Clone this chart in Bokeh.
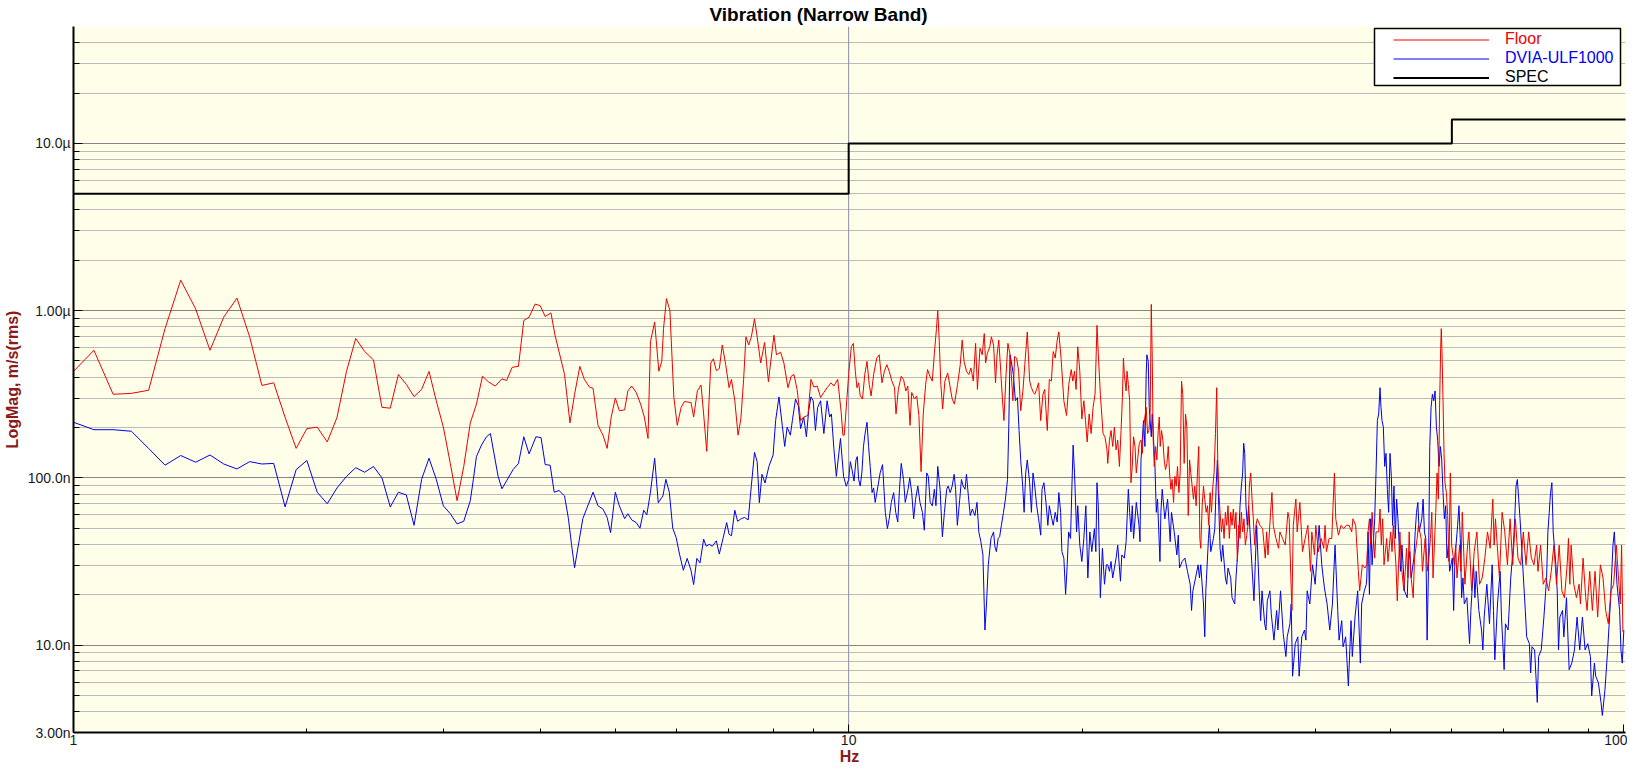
from bokeh.plotting import figure
from bokeh.models import Range1d, FixedTicker, Span, Legend, LegendItem, BoxAnnotation
from bokeh.embed import file_html
from bokeh.resources import INLINE

# ---------------- data (frequency in Hz, magnitude in nm/s rms) ----------------
floor_f_a = [1.0, 1.0625, 1.125, 1.1875, 1.25, 1.3125, 1.375, 1.4375, 1.5, 1.5625,
             1.625, 1.6875, 1.75, 1.8125, 1.875, 1.9375, 2.0, 2.0625, 2.125, 2.1875,
             2.25, 2.3125, 2.375, 2.4375, 2.5, 2.5625, 2.625, 2.6875, 2.75, 2.8125,
             2.875, 2.9375, 3.0, 3.0625, 3.125, 3.1875]
floor_n_a = [433, 579, 316, 320, 334, 780, 1521, 1023, 579, 914,
             1188, 697, 357, 370, 230, 150, 197, 201, 164, 230,
             433, 681, 569, 508, 264, 261, 415, 362, 306, 338,
             433, 289, 201, 122, 73, 117]

floor_f_b = [3.25, 3.31, 3.37, 3.43, 3.50, 3.57, 3.62, 3.68, 3.75, 3.81,
             3.87, 3.94, 4.00, 4.06, 4.13, 4.18, 4.25, 4.30, 4.37, 4.43,
             4.50, 4.56, 4.63, 4.68, 4.75, 4.82, 4.88, 4.94, 5.00, 5.06,
             5.14, 5.19, 5.25, 5.32, 5.39, 5.45, 5.51, 5.55, 5.62, 5.69,
             5.74, 5.77, 5.82, 5.88, 5.95, 6.01, 6.08, 6.14, 6.26, 6.31,
             6.38, 6.45, 6.50, 6.56, 6.64, 6.69, 6.75, 6.81, 6.87, 6.94,
             7.01, 7.06, 7.13, 7.20, 7.26, 7.32, 7.37, 7.43, 7.49, 7.56,
             7.62, 7.70, 7.79, 7.88, 7.93, 8.01, 8.07, 8.17, 8.25, 8.35,
             8.43, 8.50, 8.58, 8.67, 8.75, 8.86, 8.94, 9.02, 9.11, 9.20,
             9.29, 9.38, 9.49, 9.57, 9.68, 9.78, 9.83, 9.87, 9.95]
floor_n_b = [213, 276, 405, 375, 354, 391, 382, 458, 464, 873,
             914, 1094, 1070, 922, 969, 713, 520, 415, 213, 316,
             464, 388, 349, 343, 206, 180, 150, 231, 300, 252,
             255, 331, 354, 324, 276, 231, 172, 651, 854, 434,
             497, 780, 1180, 1000, 302, 206, 264, 286, 282, 231,
             331, 359, 241, 144, 486, 515, 438, 450, 623, 475,
             346, 388, 289, 180, 225, 388, 697, 623, 697, 893,
             697, 486, 645, 375, 486, 713, 544, 564, 486, 346,
             405, 415, 338, 220, 231, 236, 388, 349, 354, 302,
             324, 346, 370, 354, 388, 247, 180, 180, 302]

floor_f_c = [10.00, 10.08, 10.14, 10.20, 10.25, 10.30, 10.35, 10.42, 10.49, 10.56,
             10.63, 10.69, 10.77, 10.87, 10.95, 11.04, 11.12, 11.20, 11.28, 11.37,
             11.46, 11.51, 11.59, 11.69, 11.77, 11.85, 11.92, 12.00, 12.06, 12.16,
             12.24, 12.32, 12.40, 12.48, 12.57, 12.64, 12.73, 12.82, 12.90, 12.98,
             13.03, 13.08, 13.15, 13.22, 13.31, 13.42, 13.51, 13.60, 13.69, 13.82,
             13.93, 14.01, 14.09, 14.19, 14.29, 14.38, 14.48, 14.58, 14.66, 14.77,
             14.87, 14.96, 15.02, 15.10, 15.21, 15.28, 15.38, 15.47, 15.54, 15.62,
             15.71, 15.79, 15.86, 15.96, 16.05, 16.15, 16.21, 16.29, 16.37, 16.47,
             16.57, 16.67, 16.78, 16.90, 17.00, 17.12, 17.21, 17.31, 17.38, 17.48,
             17.58, 17.69, 17.81, 17.90, 18.04, 18.15, 18.26, 18.36, 18.47, 18.58,
             18.67, 18.80, 18.95, 19.10, 19.23, 19.37, 19.46, 19.56, 19.65, 19.75,
             19.87, 19.99, 20.11, 20.21, 20.31, 20.43, 20.55, 20.67, 20.79, 20.91,
             20.99, 21.12, 21.29, 21.41, 21.54]
floor_n_c = [415, 608, 637, 434, 346, 370, 309, 296, 415, 497,
             362, 309, 415, 520, 544, 370, 434, 475, 434, 379,
             346, 241, 338, 405, 388, 331, 354, 206, 324, 296,
             309, 236, 109, 241, 362, 444, 405, 379, 556, 780,
             1000, 697, 362, 258, 379, 424, 354, 296, 276, 362,
             475, 666, 497, 434, 415, 454, 379, 637, 338, 595,
             544, 729, 486, 556, 608, 697, 622, 370, 544, 666,
             434, 296, 220, 415, 637, 544, 415, 289, 532, 520,
             434, 252, 331, 520, 746, 379, 346, 324, 316, 338,
             370, 220, 316, 338, 192, 388, 379, 569, 520, 666,
             746, 508, 289, 236, 362, 444, 379, 434, 338, 608,
             434, 225, 289, 220, 164, 241, 184, 264, 316, 816,
             556, 316, 184, 176, 147]

floor_f_d = [21.59, 21.70, 21.80, 21.91, 22.02, 22.13, 22.24, 22.35, 22.46, 22.55,
             22.62, 22.68, 22.80, 22.86, 22.95, 23.04, 23.13, 23.22, 23.31, 23.41,
             23.50, 23.59, 23.71, 23.83, 23.92, 24.01, 24.11, 24.20, 24.30, 24.40,
             24.49, 24.57, 24.64, 24.71, 24.79, 24.89, 24.98, 25.08, 25.16, 25.23,
             25.33, 25.43, 25.53, 25.63, 25.74, 25.84, 25.94, 26.04, 26.14, 26.25,
             26.35, 26.46, 26.56, 26.67, 26.77, 26.88, 26.98, 27.09, 27.20, 27.31,
             27.42, 27.53, 27.63, 27.74, 27.85, 27.96, 28.07, 28.18, 28.29, 28.38,
             28.46, 28.58, 28.69, 28.80, 28.92, 29.03, 29.15, 29.26, 29.38, 29.50,
             29.61, 29.73, 29.84, 29.93, 30.02, 30.14, 30.26, 30.38, 30.50, 30.62,
             30.74, 30.86, 30.98, 31.11, 31.23, 31.35, 31.48, 31.60, 31.73, 31.85,
             31.98, 32.11, 32.23, 32.36, 32.49, 32.62, 32.75, 32.88, 33.01, 33.14,
             33.27, 33.40, 33.53, 33.66, 33.93, 34.20, 34.47, 34.61, 34.75, 35.02,
             35.16, 35.30, 35.58, 35.86, 36.00, 36.29, 36.58, 36.87, 37.01, 37.16,
             37.31, 37.46, 37.75, 37.90, 38.20, 38.50, 38.81, 39.12, 39.43, 39.58,
             39.90, 40.05, 40.37, 40.69, 41.01, 41.17, 41.34, 41.67, 42.00, 42.16,
             42.33, 42.50, 42.84, 43.17, 43.51, 43.86, 44.21, 44.56, 44.73, 45.09,
             45.45, 45.63, 45.99, 46.36]
floor_n_d = [122, 168, 192, 154, 201, 147, 168, 117, 192, 302,
             520, 415, 331, 434, 362, 289, 93.5, 117, 176, 154,
             107, 128, 161, 168, 140, 201, 231, 264, 184, 192,
             252, 1090, 520, 168, 117, 154, 128, 192, 231, 154,
             192, 168, 128, 112, 122, 154, 107, 85.4, 97.8, 71.3,
             102, 89.3, 117, 81.6, 107, 379, 316, 122, 241, 201,
             59.5, 128, 107, 89.3, 74.6, 89.3, 68.1, 107, 154, 43.4,
             37.9, 68.1, 89.3, 74.6, 62.2, 68.1, 52, 81.6, 62.2, 89.3,
             107, 184, 346, 128, 85.4, 62.2, 47.5, 56.9, 43.4, 62.2,
             52, 68.1, 43.4, 62.2, 52, 65.1, 49.7, 62.2, 31.6, 52,
             43.4, 62.2, 47.5, 56.9, 39.6, 45.4, 52, 89.3, 107, 74.6,
             56.9, 39.6, 52, 56.9, 52, 49.7, 33.1, 47.5, 34.6, 62.2,
             81.6, 52, 43.4, 37.9, 47.5, 43.4, 39.6, 62.2, 56.9, 28.9,
             16.1, 52, 74.6, 47.5, 71.3, 36.2, 43.4, 52, 27.6, 47.5,
             34.6, 52, 36.2, 43.4, 37.9, 52, 36.2, 43.4, 43.4, 68.1,
             107, 56.9, 45.4, 52, 49.7, 52, 52, 47.5, 56.9, 52,
             27.6, 21.1, 30.2, 28.9]

floor_f_e = [46.60, 46.78, 46.97, 47.15, 47.34, 47.71, 47.90, 48.28, 48.47, 48.66,
             48.85, 49.05, 49.44, 49.63, 50.03, 50.23, 50.42, 50.82, 51.02, 51.22,
             51.42, 51.63, 52.03, 52.24, 52.44, 52.65, 52.86, 53.07, 53.49, 53.70,
             54.12, 54.34, 54.77, 54.98, 55.42, 55.86, 56.30, 56.53, 56.74, 57.20,
             57.42, 57.65, 57.87, 58.04, 58.15, 58.28, 58.45, 58.62, 58.79, 59.03,
             59.26, 59.49, 59.73, 59.96, 60.44, 60.68, 60.92, 61.40, 61.64, 61.89,
             62.37, 62.87, 63.12, 63.62, 64.12, 64.63, 65.14, 65.66, 66.18, 66.70,
             67.23, 67.76, 68.03, 68.30, 69.11, 69.66, 70.21, 70.77, 71.33, 71.89,
             72.46, 73.03, 73.61, 74.19, 74.78, 75.38, 75.97, 76.57, 77.18, 77.49,
             78.10, 78.72, 79.34, 79.97, 80.61, 81.24, 81.88, 82.53, 83.19, 83.84,
             84.51, 84.84, 85.18, 85.51, 86.19, 86.87, 87.56, 87.91, 88.60, 89.30,
             89.66, 90.37, 91.08, 91.81, 92.53, 93.27, 94.01, 94.75, 95.50, 96.26,
             97.02, 97.79, 98.56, 98.95, 99.34, 99.73]
floor_n_e = [30.2, 47.5, 56.9, 39.6, 62.2, 33.1, 47.5, 47.5, 65.1, 39.6,
             56.9, 30.2, 43.4, 31.6, 47.5, 36.2, 52, 30.2, 18.4, 30.2,
             47.5, 30.2, 21.1, 27.6, 37.9, 25.2, 47.5, 27.6, 19.2, 33.1,
             43.4, 52, 43.4, 27.6, 43.4, 27.6, 43.4, 62.2, 25.2, 62.2,
             107, 74.6, 289, 595, 780, 544, 289, 140, 93.5, 81.6,
             59.5, 31.6, 107, 39.6, 30.2, 39.6, 25.2, 39.6, 27.6, 62.2,
             23.1, 39.6, 47.5, 21.1, 36.2, 47.5, 23.1, 25.2, 33.1, 47.5,
             37.9, 74.6, 39.6, 56.9, 25.2, 62.2, 47.5, 30.2, 56.9, 30.2,
             56.9, 33.1, 30.2, 47.5, 30.2, 47.5, 33.1, 30.2, 39.6, 27.6,
             39.6, 23.1, 25.2, 21.1, 27.6, 39.6, 23.1, 39.6, 21.1, 19.2,
             30.2, 43.4, 23.1, 39.6, 23.1, 19.2, 23.1, 17.6, 33.1, 19.2,
             16.1, 27.6, 16.1, 27.6, 14.7, 30.2, 25.2, 16.1, 13.4, 21.1,
             23.1, 39.6, 23.1, 17.6, 39.6, 12]

dvia_f_a = floor_f_a
dvia_n_a = [215, 194, 194, 190, 150, 119, 136, 124, 137, 121,
            113, 125, 121, 122, 67, 112, 127, 82, 70, 87,
            102, 115, 108, 117, 100, 67, 82, 79, 52, 98,
            131, 98, 68, 61, 53, 55]

dvia_f_b = [3.25, 3.28, 3.31, 3.36, 3.41, 3.45, 3.49, 3.53, 3.57, 3.62,
            3.69, 3.75, 3.81, 3.87, 3.95, 4.01, 4.06, 4.12, 4.17, 4.23,
            4.30, 4.35, 4.39, 4.43, 4.49, 4.54, 4.59, 4.68, 4.75, 4.82,
            4.88, 4.93, 5.00, 5.06, 5.14, 5.19, 5.25, 5.32, 5.38, 5.44,
            5.49, 5.55, 5.62, 5.68, 5.76, 5.81, 5.87, 5.93, 5.99, 6.05,
            6.12, 6.19, 6.26, 6.31, 6.37, 6.43, 6.50, 6.55, 6.61, 6.67,
            6.75, 6.81, 6.89, 6.96, 7.01, 7.06, 7.13, 7.19, 7.27, 7.34,
            7.42, 7.49, 7.56, 7.62, 7.67, 7.73, 7.80, 7.89, 7.99, 8.05,
            8.13, 8.21, 8.27, 8.33, 8.41, 8.46, 8.54, 8.61, 8.67, 8.75,
            8.82, 8.88, 8.94, 9.00, 9.06, 9.12, 9.20, 9.29, 9.38, 9.45,
            9.50, 9.57, 9.64, 9.76, 9.85, 9.93]
dvia_n_b = [73, 98, 134, 157, 176, 184, 137, 102, 86, 96,
            112, 122, 176, 139, 176, 174, 120, 119, 82, 84,
            78, 57, 40, 29, 42, 57, 65, 82, 68, 65,
            58, 47, 82, 68, 57, 61, 56, 54, 50, 64,
            60, 82, 131, 71, 78, 98, 82, 50, 44, 35,
            28, 33, 28, 23, 33, 31, 43, 39, 40, 39,
            42, 35, 44, 54, 46, 45, 64, 55, 57, 58,
            56, 90, 142, 125, 71, 105, 93, 117, 137, 220,
            305, 206, 154, 201, 180, 220, 296, 270, 197, 231,
            176, 252, 305, 289, 192, 264, 289, 184, 289, 231,
            241, 150, 102, 172, 102, 89]

dvia_f_c = [10.00, 10.05, 10.10, 10.16, 10.22, 10.26, 10.30, 10.35, 10.40, 10.45,
            10.50, 10.56, 10.61, 10.66, 10.72, 10.77, 10.82, 10.91, 10.98, 11.06,
            11.10, 11.15, 11.22, 11.28, 11.35, 11.43, 11.50, 11.57, 11.63, 11.69,
            11.77, 11.83, 11.93, 11.99, 12.06, 12.13, 12.20, 12.28, 12.36, 12.45,
            12.52, 12.61, 12.67, 12.74, 12.82, 12.90, 12.96, 13.03, 13.12, 13.21,
            13.29, 13.38, 13.44, 13.52, 13.60, 13.68, 13.74, 13.81, 13.91, 13.98,
            14.05, 14.13, 14.19, 14.27, 14.35, 14.44, 14.55, 14.64, 14.72, 14.81,
            14.90, 14.99, 15.06, 15.14, 15.26, 15.38, 15.44, 15.51, 15.59, 15.66,
            15.74, 15.84, 15.93, 16.03, 16.09, 16.15, 16.21, 16.31, 16.41, 16.51,
            16.59, 16.67, 16.77, 16.84, 16.92, 17.00, 17.12, 17.21, 17.29, 17.38,
            17.48, 17.58, 17.69, 17.76, 17.86, 17.97, 18.07, 18.15, 18.25, 18.36,
            18.47, 18.58, 18.67, 18.77, 18.84, 18.95, 19.05, 19.14, 19.22, 19.33,
            19.41, 19.48, 19.56, 19.68, 19.75, 19.87, 19.99, 20.11, 20.23, 20.35,
            20.47, 20.59, 20.75, 20.84, 20.91, 20.99, 21.12, 21.25, 21.38, 21.50]
dvia_n_c = [97.8, 125, 112, 95.6, 128, 134, 97.8, 89.3, 107, 154,
            184, 215, 154, 117, 81.6, 87, 71.3, 89.3, 107, 120,
            89.3, 62.2, 49.7, 56.9, 71.3, 81.6, 62.2, 54.4, 85.4, 122,
            97.8, 71.3, 85.4, 100, 81.6, 56.9, 74.6, 89.3, 71.3, 62.2,
            48.6, 107, 102, 71.3, 68.1, 85.4, 68.1, 117, 85.4, 44.4,
            62.2, 85.4, 89.3, 81.6, 89.3, 105, 85.4, 52, 74.6, 97.8,
            89.3, 85.4, 105, 78, 59.5, 65.1, 59.5, 71.3, 47.5, 41.5,
            34.6, 12.3, 17.6, 30.2, 43.4, 47.5, 38.7, 36.2, 43.4, 44.4,
            52, 62.2, 74.6, 97.8, 201, 544, 497, 415, 289, 302,
            192, 128, 89.3, 62.2, 107, 128, 93.5, 62.2, 107, 89.3,
            68.1, 56.9, 45.4, 85.4, 93.5, 71.3, 52, 68.1, 59.5, 52,
            62.2, 54.4, 81.6, 62.2, 36.2, 33.1, 20.1, 30.2, 47.5, 43.4,
            89.3, 157, 107, 47.5, 68.1, 39.6, 31.6, 43.4, 68.1, 25.2,
            47.5, 36.2, 49.7, 36.2, 93.5, 68.1, 19.2, 37.9, 23.1, 30.2]

dvia_f_d = [21.59, 21.70, 21.80, 21.91, 22.13, 22.24, 22.42, 22.51, 22.68, 22.80,
            22.95, 23.04, 23.13, 23.22, 23.31, 23.50, 23.69, 23.76, 23.83, 24.01,
            24.11, 24.20, 24.25, 24.35, 24.42, 24.57, 24.64, 24.84, 24.94, 25.03,
            25.21, 25.28, 25.38, 25.58, 25.79, 25.99, 26.09, 26.30, 26.51, 26.62,
            26.72, 26.93, 27.15, 27.36, 27.58, 27.69, 27.80, 28.02, 28.24, 28.35,
            28.46, 28.69, 28.80, 28.89, 29.12, 29.20, 29.32, 29.55, 29.67, 29.79,
            29.90, 30.02, 30.14, 30.26, 30.38, 30.62, 30.74, 30.86, 31.11, 31.23,
            31.48, 31.60, 31.85, 31.98, 32.11, 32.23, 32.33, 32.43, 32.55, 32.68,
            32.81, 33.07, 33.33, 33.47, 33.60, 33.86, 34.00, 34.14, 34.41, 34.54,
            34.68, 34.95, 35.09, 35.37, 35.65, 35.79, 36.07, 36.36, 36.65, 36.79,
            37.09, 37.23, 37.38, 37.68, 37.97, 38.12, 38.42, 38.73, 38.89, 39.04,
            39.35, 39.66, 39.98, 40.29, 40.45, 40.77, 41.09, 41.42, 41.75, 42.08,
            42.41, 42.75, 42.92, 43.26, 43.43, 43.77, 44.12, 44.47, 44.64, 45.00,
            45.36, 45.72, 45.90, 46.26, 46.54]
dvia_n_d = [30.2, 27.6, 31.6, 25.2, 33.1, 39.6, 24.1, 34.6, 33.1, 41.5,
            85.4, 62.2, 47.5, 68.1, 43.4, 71.3, 52, 41.5, 128, 220,
            154, 415, 544, 497, 264, 176, 241, 117, 62.2, 74.6,
            31.6, 62.2, 85.4, 56.9, 74.6, 41.5, 62.2, 47.5, 34.6, 45.4,
            28.9, 31.6, 33.1, 27.6, 23.1, 16.1, 21.1, 25.2, 30.2, 25.2,
            30.2, 17.6, 11.2, 21.1, 43.4, 52, 36.2, 43.4, 49.7, 89.3,
            128, 68.1, 37.9, 31.6, 39.6, 25.2, 23.1, 28.9, 25.2, 19.2,
            17.6, 25.2, 43.4, 68.1, 89.3, 107, 161, 140, 68.1, 52,
            68.1, 34.6, 18.4, 31.6, 52, 21.1, 14, 21.1, 13.4, 12.3,
            18.4, 21.1, 15.4, 10.7, 16.1, 12.3, 21.1, 11.7, 8.54, 11.2,
            13.4, 17.6, 6.51, 10.2, 11.2, 6.51, 11.2, 12.3, 10.7, 21.1,
            17.6, 30.2, 23.1, 39.6, 52, 30.2, 22, 17.6, 12.3, 17.6,
            39.6, 16.1, 10.7, 14, 9.77, 11.2, 5.69, 14, 8.54, 14.7,
            21.1, 7.8, 17.6, 21.1, 23.1]

dvia_f_e = [46.60, 46.78, 46.97, 47.15, 47.34, 47.71, 47.90, 48.09, 48.28, 48.47,
            48.61, 48.76, 48.95, 49.15, 49.34, 49.54, 49.73, 49.93, 50.13, 50.32,
            50.52, 50.72, 50.92, 51.12, 51.32, 51.52, 51.73, 52.13, 52.55, 52.75,
            52.96, 53.17, 53.60, 53.81, 54.02, 54.23, 54.45, 54.88, 55.09, 55.31,
            55.53, 55.75, 55.97, 56.19, 56.41, 56.63, 56.86, 57.08, 57.31, 57.53,
            57.76, 57.99, 58.22, 58.45, 58.68, 58.91, 59.14, 59.38, 59.61, 60.08,
            60.32, 60.56, 61.04, 61.28, 61.52, 61.77, 62.01, 62.26, 62.74, 63.24,
            63.49, 64.00, 64.25, 64.50, 65.01, 65.53, 65.79, 66.05, 66.57, 67.10,
            67.63, 67.90, 68.17, 68.71, 69.25, 69.53, 70.08, 70.35, 70.91, 71.47,
            72.04, 72.32, 72.60, 72.89, 73.18, 73.47, 74.05, 74.63, 74.93, 75.53,
            75.82, 76.12, 76.72, 77.33, 77.64, 78.25, 78.87, 79.50, 79.81, 80.13,
            80.44, 80.76, 81.08, 81.72, 82.05, 82.37, 82.70, 83.35, 83.68, 84.34,
            85.01, 85.68, 86.36, 87.04, 87.73, 88.43, 89.13, 89.84, 90.55, 90.90,
            91.63, 91.99, 92.72, 93.45, 93.82, 94.56, 95.31, 96.07, 96.83, 97.22,
            97.99, 98.76, 99.15, 99.54, 100.0]
dvia_n_e = [25.2, 47.5, 20.1, 56.9, 30.2, 56.9, 107, 220, 241, 346,
            264, 220, 201, 117, 140, 85.4, 62.2, 140, 102, 52,
            89.3, 43.4, 74.6, 56.9, 39.6, 27.6, 39.6, 21.1, 19.2, 31.6,
            36.2, 25.2, 33.1, 47.5, 62.2, 71.3, 47.5, 56.9, 74.6, 47.5,
            43.4, 10.7, 27.6, 154, 264, 316, 289, 331, 201, 168,
            117, 154, 128, 81.6, 56.9, 68.1, 33.1, 39.6, 27.6, 33.1,
            16.1, 33.1, 52, 68.1, 43.4, 19.2, 25.2, 17.6, 19.2, 10.2,
            16.1, 30.2, 19.2, 27.6, 16.1, 12.3, 9.35, 14.7, 23.1, 13.4,
            30.2, 16.1, 8.16, 17.6, 27.6, 14.7, 7.13, 13.4, 12.3, 25.2,
            39.6, 56.9, 89.3, 97.8, 74.6, 56.9, 30.2, 16.1, 11.2, 10.2,
            6.81, 9.78, 9.35, 4.54, 8.54, 9.35, 14.7, 25.2, 47.5, 62.2,
            81.6, 93.5, 47.5, 30.2, 21.1, 9.35, 14.7, 16.1, 11.2, 19.2,
            7.13, 7.8, 9.35, 14.7, 9.35, 14.7, 9.35, 10.2, 8.54, 4.97,
            7.8, 6.51, 5.95, 4.54, 3.79, 5.44, 9.35, 17.6, 39.6, 47.5,
            23.1, 16.1, 9.35, 7.8, 12.3]

spec_f = [1, 10, 60, 101]
spec_um = [5.0, 10.0, 13.9, 13.9]

y_tick_labels = {3e-9: "3.00n", 1e-8: "10.0n", 1e-7: "100.0n", 1e-6: "1.00µ", 1e-5: "10.0µ"}
x_tick_labels = {1: "1", 10: "10", 100: "100"}

# ---------------- assemble ----------------
NM = 1e-9
floor_f = floor_f_a + floor_f_b + floor_f_c + floor_f_d + floor_f_e
floor_v = [v * NM for v in floor_n_a + floor_n_b + floor_n_c + floor_n_d + floor_n_e]
dvia_f = dvia_f_a + dvia_f_b + dvia_f_c + dvia_f_d + dvia_f_e
dvia_v = [v * NM for v in dvia_n_a + dvia_n_b + dvia_n_c + dvia_n_d + dvia_n_e]
spec_v = [v * 1e-6 for v in spec_um]

FONT = "Liberation Sans"
DARKRED = "#8B1A1A"
FW, FH = 1552, 706

p = figure(frame_width=FW, frame_height=FH, x_axis_type="log", y_axis_type="log",
           x_range=Range1d(1, 100.5), y_range=Range1d(3e-9, 5e-5),
           output_backend="svg", toolbar_location=None,
           title="Vibration (Narrow Band)")
p.min_border_left = 0
p.min_border_right = 2
p.min_border_top = 0
p.min_border_bottom = 0
p.background_fill_color = "#FFFFE9"
p.border_fill_color = "white"
p.outline_line_color = None

p.title.text_font = FONT
p.title.text_font_size = "19px"
p.title.text_font_style = "bold"
p.title.text_color = "black"
p.title.align = "left"
p.title.offset = 636
p.title.standoff = 3

# y axis
minor_y = []
for e in range(-9, -4):
    for m in range(2, 10):
        val = m * 10.0 ** e
        if 3.5e-9 < val < 5e-5:
            minor_y.append(val)
yt = FixedTicker(ticks=list(y_tick_labels.keys()), minor_ticks=minor_y)
p.yaxis.ticker = yt
p.ygrid.ticker = yt
p.yaxis.major_label_overrides = y_tick_labels
xt = FixedTicker(ticks=list(x_tick_labels.keys()),
                 minor_ticks=[2, 3, 4, 5, 6, 7, 8, 9, 20, 30, 40, 50, 60, 70, 80, 90])
p.xaxis.ticker = xt
p.xaxis.major_label_overrides = x_tick_labels

for ax in (p.xaxis, p.yaxis):
    ax.axis_line_color = "black"
    ax.axis_line_width = 2
    ax.major_tick_line_color = "black"
    ax.minor_tick_line_color = "black"
    ax.major_tick_out = 0
    ax.minor_tick_out = 0
    ax.major_label_text_font = FONT
    ax.major_label_text_font_size = "14px"
    ax.major_label_text_color = "#1A1A1A"
    ax.axis_label_text_font = FONT
    ax.axis_label_text_font_size = "16px"
    ax.axis_label_text_font_style = "bold"
    ax.axis_label_text_color = DARKRED
p.yaxis.major_tick_in = 9
p.yaxis.minor_tick_in = 6
p.xaxis.major_tick_in = 8
p.xaxis.minor_tick_in = 4
p.yaxis.major_label_standoff = 3
p.xaxis.major_label_standoff = 2
p.yaxis.axis_label_standoff = 4
p.xaxis.axis_label_standoff = 0
p.yaxis.axis_label = "LogMag, m/s(rms)"
p.xaxis.axis_label = "Hz"

p.xgrid.visible = False
p.ygrid.grid_line_color = "#858585"
p.ygrid.grid_line_width = 1
p.ygrid.minor_grid_line_color = "#BBBBBB"
p.ygrid.minor_grid_line_width = 1

p.add_layout(Span(location=10, dimension="height", line_color="#8C8CA8",
                  line_width=1, level="underlay"))

r_dvia = p.line(dvia_f, dvia_v, line_color="#0000EE", line_width=1)
r_floor = p.line(floor_f, floor_v, line_color="#EE0000", line_width=1)
r_spec = p.step(spec_f, spec_v, mode="after", line_color="black", line_width=2)

# legend: white box with three coloured entries
box_right = FW - 5
box_left = box_right - 246
box_top = FH - 2
p.add_layout(BoxAnnotation(left=box_left, right=box_right, top=box_top, bottom=box_top - 57,
                           left_units="screen", right_units="screen",
                           top_units="screen", bottom_units="screen",
                           fill_color="white", fill_alpha=1.0,
                           line_color="black", line_width=1.5, line_alpha=1.0))
entries = [("Floor", r_floor, "#EE0000"), ("DVIA-ULF1000", r_dvia, "#0000EE"),
           ("SPEC", r_spec, "black")]
for i, (lab, rend, col) in enumerate(entries):
    leg = Legend(items=[LegendItem(label=lab, renderers=[rend])],
                 location=(box_left + 19, box_top - 11 - 19 * i - 9.5),
                 padding=0, spacing=0, margin=0,
                 glyph_width=96, glyph_height=19, label_height=19, label_width=110,
                 label_standoff=16,
                 label_text_font=FONT, label_text_font_size="16px",
                 label_text_color=col,
                 background_fill_alpha=0, border_line_alpha=0)
    p.add_layout(leg, "center")

open("out.html", "w").write(file_html(p, INLINE))
